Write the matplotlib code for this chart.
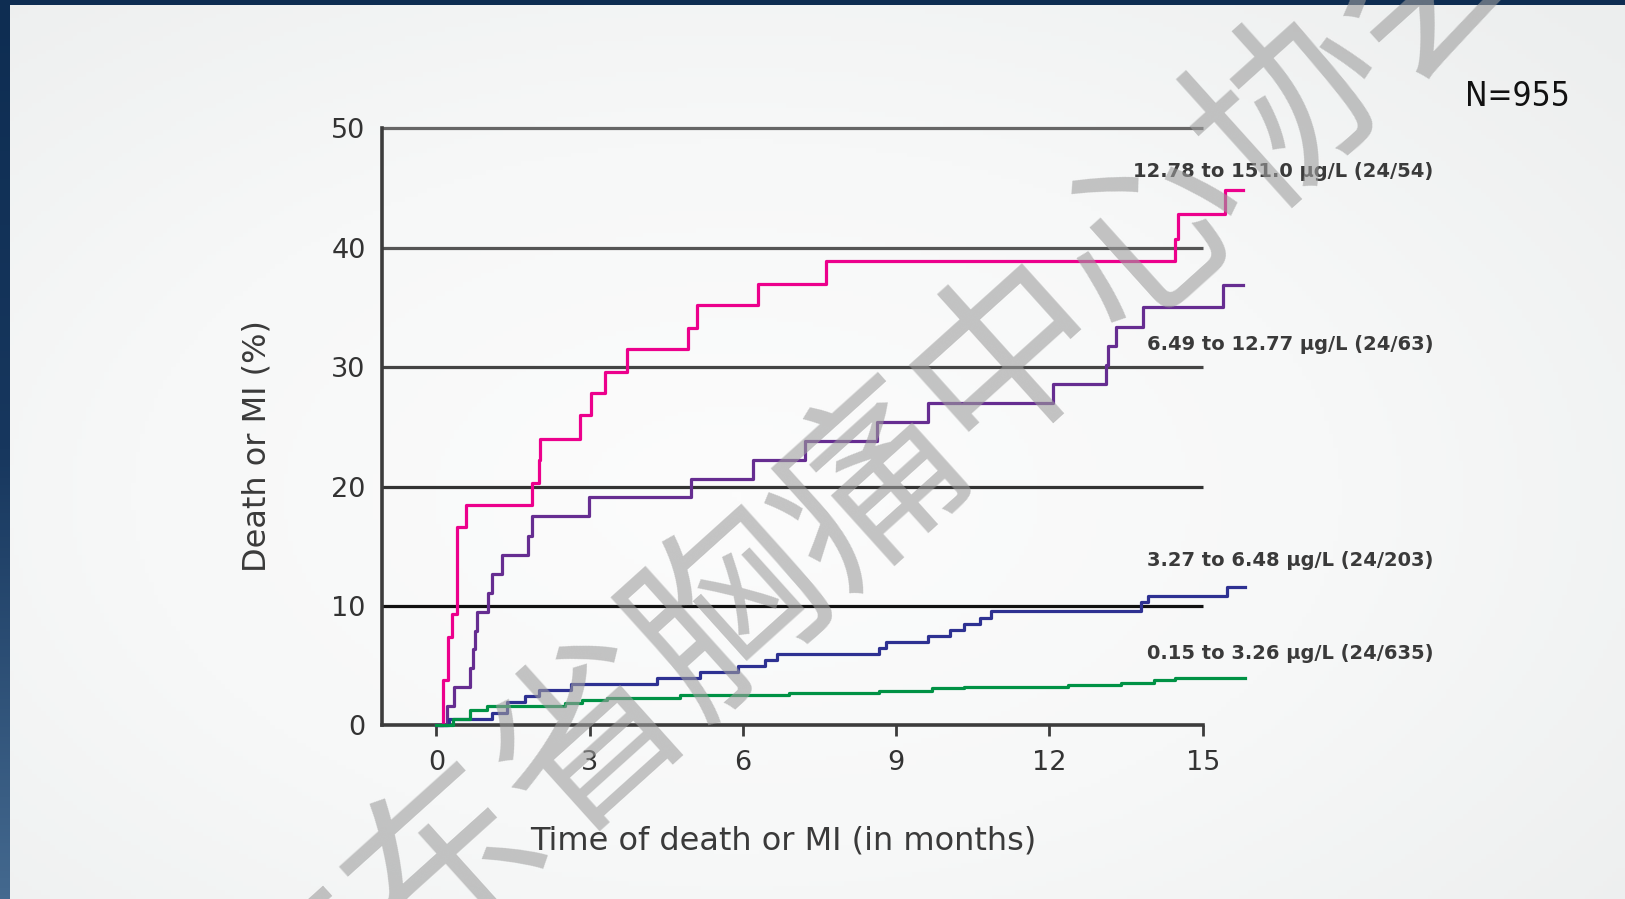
import numpy as np
import matplotlib
matplotlib.use("Agg")
import matplotlib.pyplot as plt
from matplotlib.colors import LinearSegmentedColormap

# step times (months) and cumulative death/MI (%) for each group
t_high = [0.12, 0.22, 0.30, 0.40, 0.58, 1.88, 2.00, 2.03, 2.81, 3.03, 3.29, 3.73,
          4.93, 5.10, 6.30, 7.63, 14.46, 14.52, 15.43]
v_high = [3.8, 7.4, 9.3, 16.6, 18.5, 20.3, 22.2, 24.0, 26.0, 27.8, 29.6, 31.5,
          33.3, 35.2, 37.0, 38.9, 40.7, 42.8, 44.8]
t_mid2 = [0.20, 0.35, 0.66, 0.72, 0.76, 0.79, 1.01, 1.08, 1.28, 1.80, 1.87, 2.98,
          4.98, 6.19, 7.21, 8.62, 9.63, 12.07, 13.10, 13.15, 13.30, 13.84, 15.39]
v_mid2 = [1.6, 3.2, 4.8, 6.4, 7.9, 9.5, 11.1, 12.7, 14.3, 15.9, 17.5, 19.1,
          20.6, 22.2, 23.8, 25.4, 27.0, 28.6, 30.2, 31.8, 33.4, 35.0, 36.9]
t_mid1 = [0.25, 1.08, 1.38, 1.74, 2.00, 2.63, 4.31, 5.16, 5.91, 6.43, 6.66, 8.66,
          8.80, 9.63, 10.05, 10.33, 10.64, 10.85, 13.79, 13.93, 15.47]
v_mid1 = [0.5, 1.0, 2.0, 2.5, 3.0, 3.5, 4.0, 4.5, 5.0, 5.5, 6.0, 6.5,
          7.0, 7.5, 8.0, 8.5, 9.0, 9.6, 10.3, 10.8, 11.6]
t_low = [0.33, 0.66, 0.99, 2.52, 2.85, 3.33, 4.77, 6.90, 8.66, 9.70, 10.33,
         12.36, 13.40, 14.04, 14.46]
v_low = [0.5, 1.3, 1.6, 1.9, 2.1, 2.3, 2.55, 2.75, 2.9, 3.1, 3.25,
         3.4, 3.55, 3.8, 4.0]
t_end = [15.79, 15.79, 15.82, 15.82]

labels = ["12.78 to 151.0 µg/L (24/54)", "6.49 to 12.77 µg/L (24/63)",
          "3.27 to 6.48 µg/L (24/203)", "0.15 to 3.26 µg/L (24/635)"]
label_y = [46.4, 31.9, 13.8, 6.0]
colors = ["#ec008c", "#662d91", "#2e3192", "#009245"]

W, H = 1625, 899
fig = plt.figure(figsize=(W / 100, H / 100), dpi=100)
fig.patch.set_facecolor("#0e2d52")

# left dark strip with gradient
sa = fig.add_axes([0, 0, 10 / W, 1])
sa.imshow(np.linspace(0, 1, 256).reshape(-1, 1), aspect="auto",
          cmap=LinearSegmentedColormap.from_list("s", ["#0e2d52", "#17375e", "#44698f"]))
sa.axis("off")

# light slide background
bg = fig.add_axes([10 / W, 0, 1 - 10 / W, 1 - 5 / H])
yy, xx = np.mgrid[0:1:200j, 0:1:360j]
r = np.sqrt(((xx - 0.45) / 0.75) ** 2 + ((yy - 0.55) / 0.8) ** 2)
bg.imshow(np.clip(r, 0, 1), aspect="auto", vmin=0, vmax=1,
          cmap=LinearSegmentedColormap.from_list("b", ["#fcfcfc", "#f7f8f8", "#eceeee"]))
bg.axis("off")

x0, x1 = -1.06, 16.2
ax = fig.add_axes([382.3 / W, (H - 725.4) / H, (1264 - 382.3) / W, 52 * 11.94 / H])
ax.patch.set_alpha(0)
ax.set_xlim(x0, x1)
ax.set_ylim(0, 52)

grid_cols = {10: "#111111", 20: "#333333", 30: "#444444", 40: "#555555", 50: "#666666"}
for g, c in grid_cols.items():
    ax.hlines(g, x0, 15, color=c, lw=2.3, zorder=1)

series = [(t_high, v_high), (t_mid2, v_mid2), (t_mid1, v_mid1), (t_low, v_low)]
for (t, v), col, te, lab, ly in zip(series, colors, t_end, labels, label_y):
    tt = [0] + t + [te]
    vv = [0] + v + [v[-1]]
    ax.step(tt, vv, where="post", color=col, lw=2.3, clip_on=False, zorder=3)
    ax.text(13.63 if ly > 40 else 13.91, ly, lab, fontsize=14, fontweight="bold",
            color="#3a3a3a", ha="left", va="center", clip_on=False)

for s in ["top", "right"]:
    ax.spines[s].set_visible(False)
ax.spines["left"].set_bounds(0, 50)
ax.spines["bottom"].set_bounds(x0, 15)
ax.spines["left"].set_linewidth(2.6)
ax.spines["bottom"].set_linewidth(2.6)
ax.spines["left"].set_color("#3c3c3c")
ax.spines["bottom"].set_color("#3c3c3c")

ax.set_xticks([0, 3, 6, 9, 12, 15])
ax.set_yticks([0, 10, 20, 30, 40, 50])
ax.tick_params(axis="x", direction="out", length=8, width=2, color="#3c3c3c",
               labelsize=19.5, labelcolor="#333333", pad=10)
ax.tick_params(axis="y", length=0, labelsize=19.5, labelcolor="#333333", pad=12)

fig.text(783.5 / W, 1 - 841.5 / H, "Time of death or MI (in months)", fontsize=23,
         color="#3a3a3a", ha="center", va="center")
fig.text(257 / W, 1 - 446 / H, "Death or MI (%)", fontsize=23, rotation=90,
         color="#3a3a3a", ha="center", va="center")
fig.text(1517 / W, 1 - 96 / H, "N=955", fontsize=24, fontstretch="condensed",
         family=["DejaVu Sans"], color="#111111", ha="center", va="center")

# watermark
fig.text(872 / W, 1 - 488 / H, "广东省胸痛中心协会", fontsize=136, rotation=42,
         rotation_mode="anchor", family=["Noto Sans CJK SC", "DejaVu Sans"],
         fontweight="medium", color=(0.62, 0.62, 0.62), alpha=0.6,
         ha="center", va="center", zorder=10)

fig.savefig("out.png", dpi=100, facecolor=fig.get_facecolor())
